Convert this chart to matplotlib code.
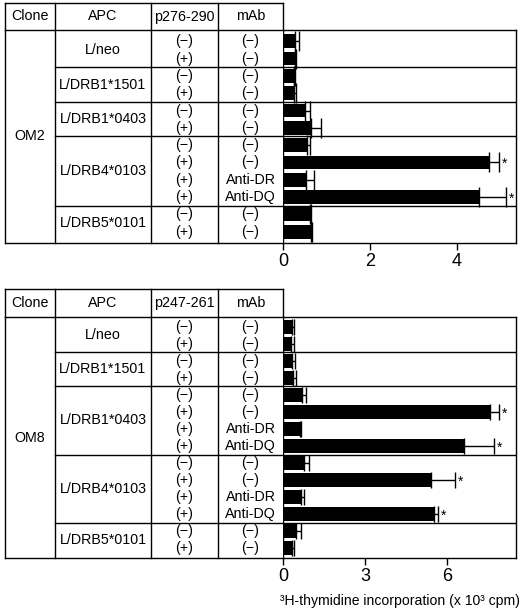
import matplotlib
matplotlib.use("Agg")
import matplotlib.pyplot as plt
import matplotlib.transforms as mtransforms

plt.rcParams['font.family'] = ['Liberation Sans', 'DejaVu Sans']

W, H = 520, 610

# ---- data -------------------------------------------------------------
apc_groups = ["L/neo", "L/DRB1*1501", "L/DRB1*0403", "L/DRB4*0103", "L/DRB5*0101"]

om2_sizes = [2, 2, 2, 4, 2]
om2_peptide = ["(−)", "(+)", "(−)", "(+)", "(−)", "(+)",
               "(−)", "(+)", "(+)", "(+)", "(−)", "(+)"]
om2_mab = ["(−)", "(−)", "(−)", "(−)", "(−)", "(−)",
           "(−)", "(−)", "Anti-DR", "Anti-DQ", "(−)", "(−)"]
om2_mean = [0.28, 0.28, 0.26, 0.26, 0.50, 0.64, 0.55, 4.74, 0.54, 4.50, 0.61, 0.64]
om2_top = [0.36, 0.29, 0.27, 0.29, 0.61, 0.88, 0.61, 4.97, 0.72, 5.13, 0.64, 0.67]
om2_star = [0, 0, 0, 0, 0, 0, 0, 1, 0, 1, 0, 0]

om8_sizes = [2, 2, 4, 4, 2]
om8_peptide = ["(−)", "(+)", "(−)", "(+)", "(−)", "(+)", "(+)", "(+)",
               "(−)", "(+)", "(+)", "(+)", "(−)", "(+)"]
om8_mab = ["(−)", "(−)", "(−)", "(−)", "(−)", "(−)", "Anti-DR", "Anti-DQ",
           "(−)", "(−)", "Anti-DR", "Anti-DQ", "(−)", "(−)"]
om8_mean = [0.34, 0.30, 0.34, 0.37, 0.70, 7.56, 0.61, 6.61,
            0.76, 5.40, 0.66, 5.51, 0.49, 0.34]
om8_top = [0.41, 0.39, 0.45, 0.46, 0.83, 7.90, 0.67, 7.73,
           0.95, 6.28, 0.76, 5.66, 0.67, 0.39]
om8_star = [0, 0, 0, 0, 0, 1, 0, 1, 0, 1, 0, 1, 0, 0]

# table column edges in figure pixels
col_edges = [5, 55, 151, 218, 283]
plot_right = 516
fs_tab = 10.3
lw = 1.0


def draw_panel(fig, hdr_top, body_top, body_bot, clone, pep_name, sizes,
               peptide, mab, mean, top, star, xmax, xticks, pad, capsize):
    n = sum(sizes)
    body_h = body_bot - body_top
    hdr = (body_top - hdr_top) / body_h
    ylim = (n - 0.5 + pad, -0.5 - pad)

    # bar axes
    ax = fig.add_axes([col_edges[-1] / W, 1 - body_bot / H,
                       (plot_right - col_edges[-1]) / W, body_h / H])
    rows = list(range(n))
    err = [t - m for t, m in zip(top, mean)]
    ax.barh(rows, mean, height=0.8, color="black")
    ax.errorbar(mean, rows, xerr=[[0] * n, err], fmt="none", ecolor="black",
                elinewidth=1.0, capsize=capsize, capthick=1.0)
    for i in rows:
        if star[i]:
            ax.text(top[i] + xmax * 0.012, i + 0.1, "*", ha="left", va="center",
                    fontsize=10)
    ax.set_xlim(0, xmax)
    ax.set_ylim(*ylim)
    ax.set_yticks([])
    ax.set_xticks(xticks)
    ax.tick_params(axis="x", direction="out", length=5, width=lw,
                   labelsize=13, pad=2)
    for s in ax.spines.values():
        s.set_linewidth(lw)

    # table axes
    tab = fig.add_axes([col_edges[0] / W, 1 - body_bot / H,
                        (col_edges[-1] - col_edges[0]) / W, body_h / H])
    tab.set_xlim(col_edges[0], col_edges[-1])
    tab.set_ylim(*ylim)
    tab.set_xticks([])
    tab.set_yticks([])
    for s in tab.spines.values():
        s.set_linewidth(lw)
    tab.spines["right"].set_visible(False)

    blend = mtransforms.blended_transform_factory(tab.transData, tab.transAxes)
    # header frame
    tab.plot([col_edges[0], col_edges[-1]], [1 + hdr, 1 + hdr], color="black",
             lw=lw, transform=blend, clip_on=False)
    tab.plot([col_edges[0], col_edges[0]], [1, 1 + hdr], color="black",
             lw=lw, transform=blend, clip_on=False)
    tab.plot([col_edges[-1], col_edges[-1]], [1, 1 + hdr], color="black",
             lw=lw, transform=blend, clip_on=False)
    for x in col_edges[1:-1]:
        tab.plot([x, x], [0, 1 + hdr], color="black", lw=lw,
                 transform=blend, clip_on=False)
    heads = ["Clone", "APC", pep_name, "mAb"]
    for k, h in enumerate(heads):
        xc = (col_edges[k] + col_edges[k + 1]) / 2
        tab.text(xc, 1 + hdr / 2, h, ha="center", va="center",
                 fontsize=fs_tab, transform=blend)

    # rows
    x_pep = (col_edges[2] + col_edges[3]) / 2
    x_mab = (col_edges[3] + col_edges[4]) / 2
    for i in rows:
        tab.text(x_pep, i, peptide[i], ha="center", va="center", fontsize=fs_tab)
        tab.text(x_mab, i, mab[i], ha="center", va="center", fontsize=fs_tab)

    # groups
    start = 0
    for g, size in enumerate(sizes):
        yc = start + (size - 1) / 2
        tab.text((col_edges[1] + col_edges[2]) / 2, yc, apc_groups[g],
                 ha="center", va="center", fontsize=fs_tab)
        start += size
        if g < len(sizes) - 1:
            yb = start - 0.5
            tab.plot([col_edges[1], col_edges[-1]], [yb, yb], color="black", lw=lw)
            ax.axhline(yb, color="black", lw=lw)

    tab.text((col_edges[0] + col_edges[1]) / 2, (n - 1) / 2, clone,
             ha="center", va="center", fontsize=fs_tab)
    return ax


fig = plt.figure(figsize=(W / 100, H / 100), dpi=100)

draw_panel(fig, 3, 30, 243, "OM2", "p276-290", om2_sizes, om2_peptide, om2_mab,
           om2_mean, om2_top, om2_star, 5.36, [0, 2, 4], 0.15, 7)
ax2 = draw_panel(fig, 289, 317, 558, "OM8", "p247-261", om8_sizes, om8_peptide,
                 om8_mab, om8_mean, om8_top, om8_star, 8.52, [0, 3, 6], 0.08, 6)
ax2.set_xlabel("³H-thymidine incorporation (x 10³ cpm)", fontsize=10.1,
               labelpad=7)

fig.savefig("out.png", dpi=100)
